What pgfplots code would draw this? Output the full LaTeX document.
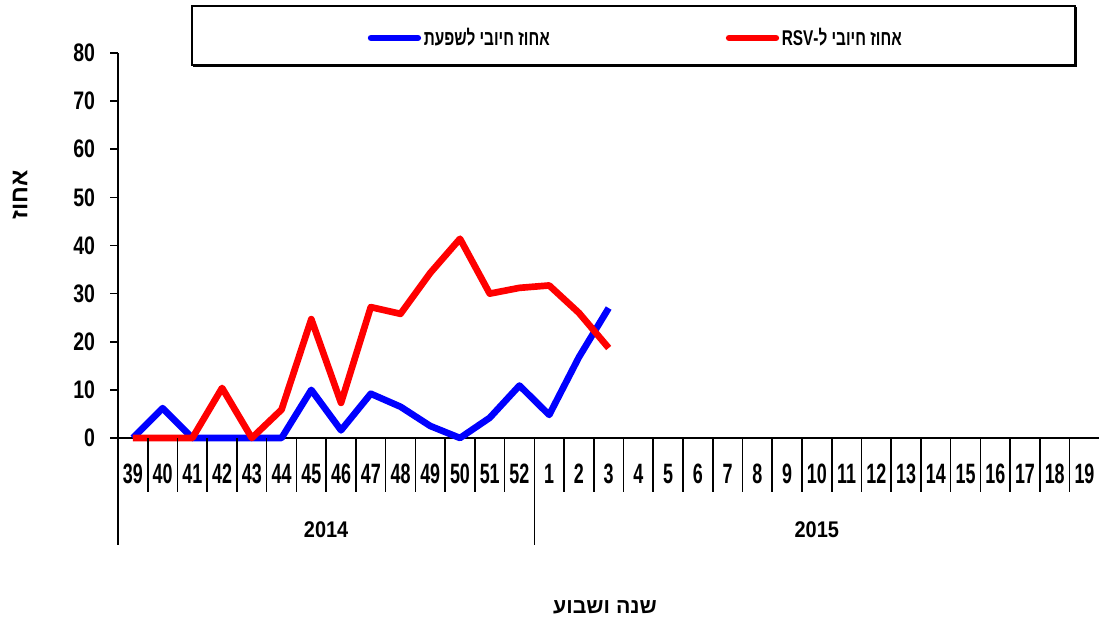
\documentclass[border=0pt]{standalone}
\usepackage{fontspec}
\usepackage{pgfplots}
\usepackage{pgfplotstable}
\pgfplotsset{compat=1.18}
\setmainfont{Liberation Sans}
\newfontfamily\hebfont[Script=Hebrew,FakeStretch=0.72]{Liberation Sans}
\newfontfamily\titlefont[Script=Hebrew]{Liberation Sans}
\newfontfamily\ynumfont[FakeStretch=0.77]{Liberation Sans}
\newfontfamily\xnumfont[FakeStretch=0.64]{Liberation Sans}
\newfontfamily\yearfont[FakeStretch=0.88]{Liberation Sans}
\TeXXeTstate=1
\definecolor{flublue}{RGB}{0,0,255}
\definecolor{rsvred}{RGB}{255,0,0}
\pgfplotstableread{
x flu rsv
0 0 0
1 6.2 0
2 0 0
3 0 10.4
4 0 0
5 0 5.9
6 10.0 24.7
7 1.6 7.3
8 9.2 27.2
9 6.5 25.8
10 2.5 34.3
11 0 41.4
12 4.2 30.0
13 10.9 31.2
14 4.8 31.7
15 16.8 26.0
16 27.0 18.7
}\data
\begin{document}
\begin{tikzpicture}
\begin{axis}[
  at={(88.5pt,135.75pt)}, anchor=south west,
  scale only axis, width=736pt, height=288.75pt,
  xmin=-0.5, xmax=32.5, ymin=0, ymax=80,
  axis lines*=left,
  axis line style={line width=1.2pt},
  clip=false,
  /pgf/number format/assume math mode=true,
  ytick={0,10,...,80},
  tick align=outside,
  major tick length=6pt,
  ytick style={line width=1.2pt, black},
  yticklabel style={font=\ynumfont\bfseries\fontsize{19}{19}\selectfont, anchor=east, inner sep=0pt, xshift=-11pt},
  xtick={0,...,32},
  xticklabels={39,40,41,42,43,44,45,46,47,48,49,50,51,52,1,2,3,4,5,6,7,8,9,10,11,12,13,14,15,16,17,18,19},
  xtick style={draw=none},
  xticklabel style={font=\xnumfont\bfseries\fontsize{21}{21}\selectfont, anchor=center, inner sep=0pt, yshift=-21pt},
  legend columns=2,
  legend style={draw=none, fill=none, at={(0.528,1.039)}, anchor=center,
    font=\hebfont\bfseries\fontsize{16}{16}\selectfont,
    nodes={inner sep=2pt},
    /tikz/every even column/.append style={column sep=130pt}},
  legend image code/.code={\draw[#1, line cap=round] (0pt,0pt) -- (35pt,0pt);},
]
\addplot[flublue, line width=5pt, line join=round] table[x=x, y=flu] {\data};
\addlegendentry{\beginR אחוז חיובי  לשפעת\endR}
\addplot[rsvred, line width=5pt, line join=round] table[x=x, y=rsv] {\data};
\addlegendentry{\beginR אחוז חיובי  ל-\beginL RSV\endL\endR}
\pgfplotsinvokeforeach{-0.5,0.5,...,32.5}{
  \draw[line width=1.2pt] (axis cs:#1,0) -- ([yshift=-40.5pt]axis cs:#1,0);
}
\draw[line width=1.2pt] (axis cs:-0.5,0) -- ([yshift=-80.25pt]axis cs:-0.5,0);
\draw[line width=1.2pt] (axis cs:13.5,0) -- ([yshift=-80.25pt]axis cs:13.5,0);
\node[font=\yearfont\bfseries\fontsize{17}{17}\selectfont, yshift=-69pt] at (axis cs:6.5,0) {2014};
\node[font=\yearfont\bfseries\fontsize{17}{17}\selectfont, yshift=-69pt] at (axis cs:23,0) {2015};
\end{axis}
\draw[line width=1pt] (144pt,415.5pt) rectangle (806.25pt,459.75pt);
\draw[line width=1pt] (145pt,414.75pt) -- (807pt,414.75pt) -- (807pt,459pt);
\node[font=\titlefont\bfseries\fontsize{16}{16}\selectfont] at (453.75pt,9pt) {\beginR שנה ושבוע\endR};
\node[font=\titlefont\bfseries\fontsize{18}{18}\selectfont, rotate=90] at (15pt,318pt) {\beginR אחוז\endR};
\pgfresetboundingbox
\useasboundingbox (0,0) rectangle (824.25pt,464.25pt);
\end{tikzpicture}
\end{document}
